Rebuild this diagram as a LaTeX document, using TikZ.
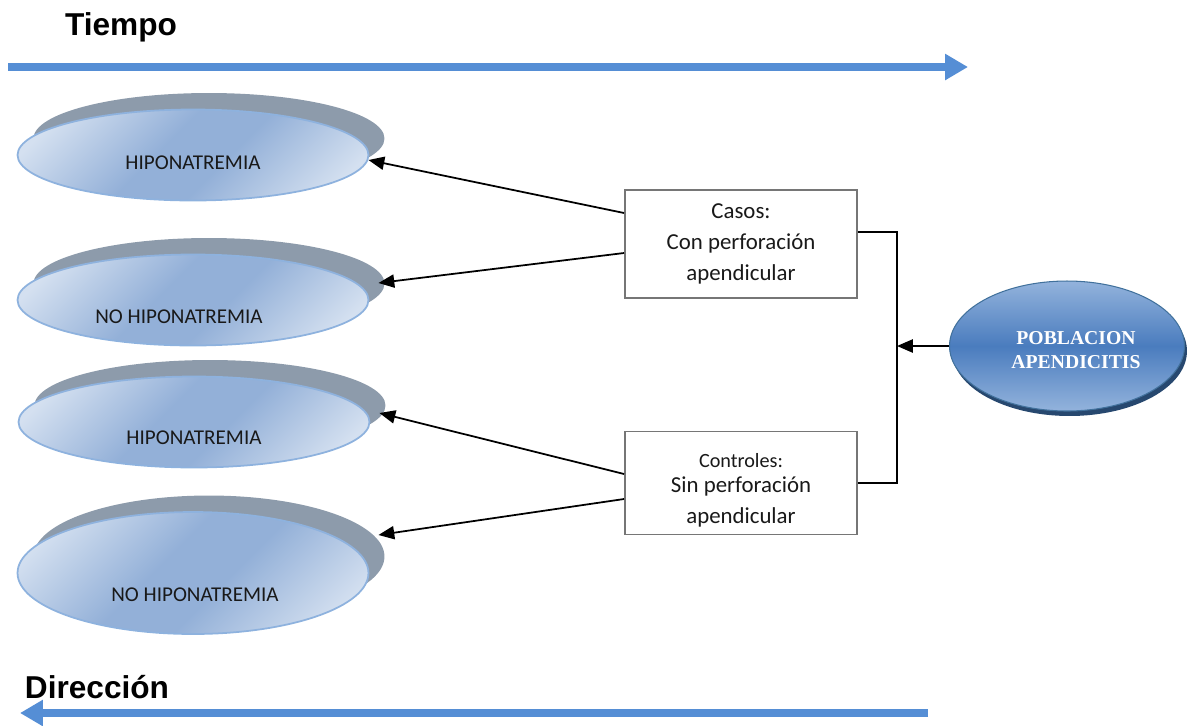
\documentclass[tikz,border=0pt]{standalone}
\usepackage{fontspec}
\setmainfont{Carlito}
\newfontfamily\arialfont{Liberation Sans}
\newfontfamily\timesfont{Liberation Serif}
\usetikzlibrary{arrows.meta}
\usetikzlibrary{positioning}
\usetikzlibrary{shapes.geometric}
\usetikzlibrary{shadows}
\definecolor{mblue}{HTML}{558ED5}
\definecolor{elight}{HTML}{D4E0F0}
\definecolor{emid}{HTML}{93B0D8}
\definecolor{eborder}{HTML}{8EB2DE}
\definecolor{eshadow}{HTML}{8D9BAB}
\definecolor{plight}{HTML}{93B3DC}
\definecolor{pdark}{HTML}{4A7CBE}
\definecolor{pborder}{HTML}{41719C}
\definecolor{pshadow}{HTML}{27486F}
\definecolor{boxgray}{HTML}{767676}
\pgfdeclarehorizontalshading{ovalshade}{100bp}{color(0bp)=(elight); color(22bp)=(elight);
  color(44bp)=(emid); color(56bp)=(emid); color(78bp)=(elight); color(100bp)=(elight)}
\tikzset{timeline/.style = {draw=mblue, line width=0.16cm,
                            -{Triangle[length=0.46cm, width=0.5cm]}}}
\tikzset{heading/.style = {font=\arialfont\bfseries\fontsize{18}{22}\selectfont}}
\tikzset{outcome/.style = {ellipse, draw=eborder, line width=1pt, inner sep=0, outer sep=0,
                           minimum width=7.02cm, minimum height=1.82cm,
                           shading=ovalshade, shading angle=-45,
                           drop shadow={shadow xshift=0.32cm, shadow yshift=0.33cm,
                                        fill=eshadow, opacity=1}}}
\tikzset{outcometext/.style = {font=\fontsize{12}{14}\selectfont, text=black!90}}
\tikzset{casebox/.style = {draw=boxgray, line width=1.1pt, fill=white, align=center,
                           minimum width=4.64cm, font=\fontsize{13}{17.5}\selectfont,
                           text=black!90}}
\tikzset{cohort/.style = {ellipse, draw=pborder, line width=0.6pt, inner sep=0,
                          minimum width=4.7cm, minimum height=2.6cm,
                          top color=plight, bottom color=plight, middle color=pdark,
                          drop shadow={shadow xshift=0.05cm, shadow yshift=-0.1cm,
                                       fill=pshadow, opacity=1}}}
\tikzset{cohorttext/.style = {align=center, text=white,
                              font=\timesfont\bfseries\fontsize{11.2}{14}\selectfont}}
\tikzset{link/.style = {draw=black, line width=1pt}}
\tikzset{pointer/.style = {link, -{Triangle[length=9pt, width=7.5pt]}}}

\begin{document}
\begin{tikzpicture}[x=0.02cm, y=-0.02cm]
    \useasboundingbox (0, 0) rectangle (1191, 725);

    % time and direction
    \node [heading] (tiempo) at (121, 27) {Tiempo};
    \coordinate (t0) at (8, 67);
    \coordinate (t1) at (968, 67);
    \draw [timeline] (t0) -- (t1);

    \node [heading] (direccion) at (97, 687) {Dirección};
    \coordinate (d0) at (928, 713);
    \coordinate (d1) at (20, 713);
    \draw [timeline] (d0) -- (d1);

    % outcomes
    \node [outcome] (hipo1) at (193, 155) {};
    \node [outcome] (nohipo1) at (193, 300) {};
    \node [outcome] (hipo2) at (194, 422) {};
    \node [outcome, minimum height=2.44cm] (nohipo2) at (193, 573) {};

    \node [outcometext] (hipo1t) at ([shift={(0, 8)}]hipo1.center) {HIPONATREMIA};
    \node [outcometext] (nohipo1t) at ([shift={(-14, 17)}]nohipo1.center) {NO HIPONATREMIA};
    \node [outcometext] (hipo2t) at ([shift={(0, 16)}]hipo2.center) {HIPONATREMIA};
    \node [outcometext] (nohipo2t) at ([shift={(2, 22)}]nohipo2.center) {NO HIPONATREMIA};

    % groups
    \node [casebox, minimum height=2.16cm] (casos) at (741, 244)
          {Casos:\\Con perforación\\apendicular};
    \node [casebox, minimum height=2.06cm] (controles) at (741, 483)
          {\rule{0pt}{16.5pt}{\fontsize{11.5}{14}\selectfont Controles:}\\[-3.5pt]Sin perforación\\apendicular};

    \node [cohort] (poblacion) at (1067, 346) {};
    \node [cohorttext] (poblaciont) at ([shift={(9, 4)}]poblacion.center) {POBLACION\\APENDICITIS};

    \coordinate (rail) at (897, 0);
    \draw [link] ([shift={(0, -12)}]casos.east) -| (poblacion.west -| rail)
                 |- (controles.east);
    \draw [pointer] (poblacion.west) -- (poblacion.west -| rail);

    \draw [pointer] ([shift={(0, -31)}]casos.west) -- ([shift={(0, 5)}]hipo1.east);
    \draw [pointer] ([shift={(0, 9)}]casos.west) -- ([shift={(10, -17)}]nohipo1.east);
    \draw [pointer] ([shift={(0, -9)}]controles.west) -- ([shift={(10, -9)}]hipo2.east);
    \draw [pointer] ([shift={(0, 16)}]controles.west) -- ([shift={(10, -38)}]nohipo2.east);
\end{tikzpicture}
\end{document}
